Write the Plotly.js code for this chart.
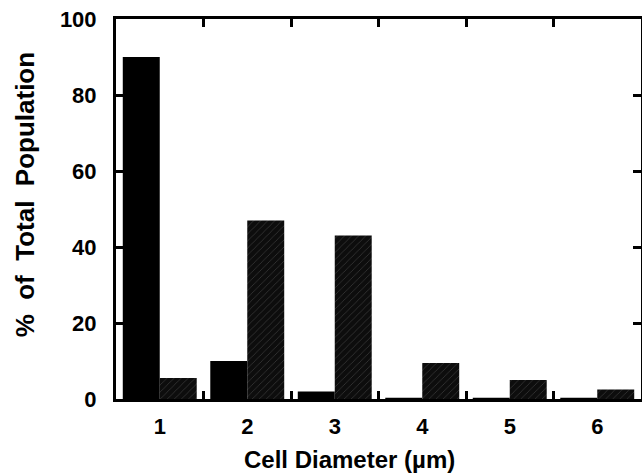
<!DOCTYPE html>
<html>
<head>
<meta charset="utf-8">
<script src="https://cdn.plot.ly/plotly-3.0.1.min.js"></script>
<style>html,body{margin:0;padding:0;background:#fff;}#chart{width:642px;height:473px;}</style>
</head>
<body>
<div id="chart"></div>
<script>
var categories = [1, 2, 3, 4, 5, 6];
var seriesSolid = [90, 10, 2, 0.3, 0.3, 0.3];
var seriesHatched = [5.5, 47, 43, 9.5, 5, 2.5];
var xTickLabels = ['1', '2', '3', '4', '5', '6'];
var groupBoundaries = [1.5, 2.5, 3.5, 4.5, 5.5];
var yTickVals = [0, 20, 40, 60, 80, 100];

var FONT = 'Liberation Sans, Arial, Helvetica, sans-serif';

var traces = [
  {type: 'bar', x: categories, y: seriesSolid, marker: {color: '#000', line: {width: 0}}, hoverinfo: 'skip'},
  {type: 'bar', x: categories, y: seriesHatched,
   marker: {color: '#111', line: {width: 0},
            pattern: {shape: '/', fgcolor: '#444', bgcolor: '#0d0d0d', size: 5, solidity: 0.12}},
   hoverinfo: 'skip'},
  {type: 'scatter', x: categories, y: [0, 0, 0, 0, 0, 0], xaxis: 'x2', yaxis: 'y', mode: 'markers', marker: {opacity: 0}, hoverinfo: 'skip', showlegend: false}
];

var layout = {
  width: 642, height: 473,
  margin: {l: 116, r: 1, t: 19, b: 74},
  paper_bgcolor: '#fff', plot_bgcolor: '#fff',
  showlegend: false,
  barmode: 'group', bargap: 0.155, bargroupgap: 0,
  font: {family: FONT, color: '#000'},
  xaxis: {
    range: [0.5, 6.5], tickmode: 'array', tickvals: groupBoundaries,
    ticks: 'inside', ticklen: 8, tickwidth: 3, tickcolor: '#000',
    showticklabels: false, showgrid: false, zeroline: false,
    showline: true, linecolor: '#000', linewidth: 3, mirror: 'ticks'
  },
  xaxis2: {
    overlaying: 'x', anchor: 'y', side: 'bottom', range: [0.5, 6.5],
    tickmode: 'array', tickvals: categories, ticktext: xTickLabels,
    ticks: '', showline: false, showgrid: false, zeroline: false, ticklabelstandoff: 12,
    tickfont: {family: FONT, size: 22, color: '#000', weight: 'bold'}
  },
  yaxis: {
    range: [0, 100], tickmode: 'array', tickvals: yTickVals,
    ticks: 'inside', ticklen: 8, tickwidth: 3, tickcolor: '#000',
    showline: true, linecolor: '#000', linewidth: 3, mirror: 'ticks',
    showgrid: false, zeroline: false, ticklabelstandoff: 12,
    tickfont: {family: FONT, size: 22, color: '#000', weight: 'bold'}
  },
  annotations: [
    {text: 'Cell Diameter (µm)', xref: 'paper', yref: 'paper', x: 0.4457, y: -0.16,
     xanchor: 'center', yanchor: 'middle', showarrow: false,
     font: {family: FONT, size: 24, color: '#000', weight: 'bold'}},
    {text: '%\u00a0\u00a0of\u00a0\u00a0Total\u00a0\u00a0Population', xref: 'paper', yref: 'paper', x: -0.173, y: 0.539,
     xanchor: 'center', yanchor: 'middle', showarrow: false, textangle: -90,
     font: {family: FONT, size: 26, color: '#000', weight: 'bold'}}
  ]
};

Plotly.newPlot('chart', traces, layout, {displayModeBar: false, staticPlot: true});
</script>
</body>
</html>
